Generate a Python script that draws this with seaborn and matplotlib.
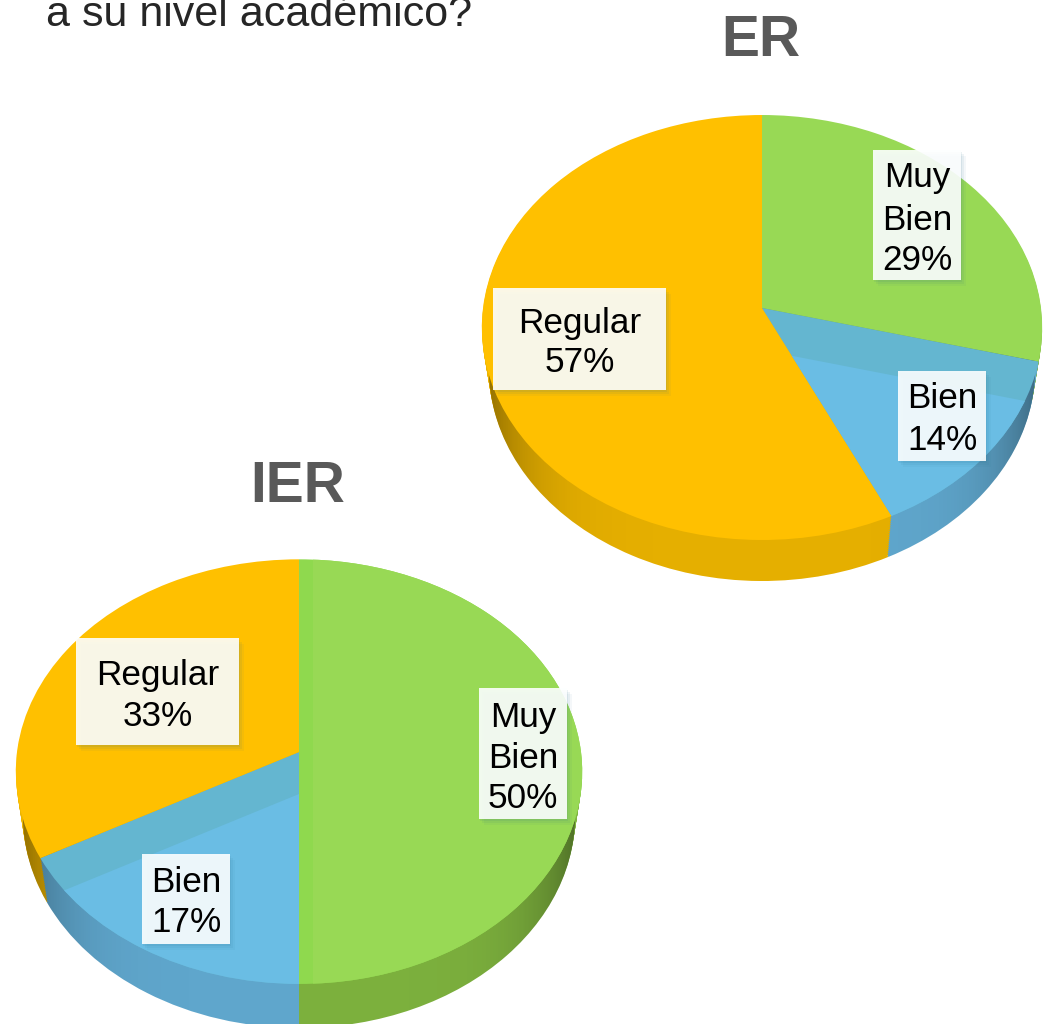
import matplotlib
matplotlib.use("Agg")
import matplotlib.pyplot as plt
from matplotlib.patches import Circle, Rectangle
from matplotlib.transforms import Transform
import numpy as np
import seaborn as sns

# data
CATEGORIES = ["Muy Bien", "Bien", "Regular"]
ER_VALUES = [29, 14, 57]
IER_VALUES = [50, 17, 33]

FACE = ["#8FD94E", "#64B6D0", "#FFC000"]
INNER = ["#98D955", "#6ABDE4", "#FFC000"]
WALL = ["#80B53F", "#62ABD2", "#ECB400"]

sns.set_theme(style="white")
plt.rcParams["font.family"] = ["Liberation Sans", "DejaVu Sans"]


class Perspective(Transform):
    # unit circle -> tilted disc in pixel coordinates
    input_dims = 2
    output_dims = 2

    def __init__(self, cx, cy, rx, ry, tilt, dx=0, dy=0):
        super().__init__()
        self.p = (cx + dx, cy + dy, rx, ry, tilt)

    def transform_non_affine(self, values):
        cx, cy, rx, ry, tilt = self.p
        x, y = np.asarray(values).T
        den = 1 + tilt * y
        return np.column_stack([cx + rx * x / den, cy - ry * y / den])


def draw_pie(ax, values, colors, persp, zorder):
    wedges, _ = ax.pie(
        values, colors=colors, startangle=90, counterclock=False, radius=1,
        wedgeprops={"linewidth": 0}
    )
    for w in wedges:
        w.set_transform(persp + ax.transData)
        w.set_zorder(zorder)
    return wedges


def draw_disc(ax, values, geom, depth, inner_shift):
    cx, cy, rx, ry, tilt = geom
    # side wall, narrows a little going down
    for i, d in enumerate(range(depth, 0, -2)):
        low = (cx, cy, rx * (1 - 0.025 * d / depth), ry, tilt)
        draw_pie(ax, values, WALL, Perspective(*low, dy=d), 1 + i * 0.01)

    # shading of the wall, darker towards both ends
    xs = np.linspace(-1, 1, 300)
    shade = np.zeros((2, 300, 4))
    shade[..., 3] = 0.03 + 0.42 * np.abs(xs) ** 6
    img = ax.imshow(
        shade, extent=(cx - rx - 5, cx + rx + 5, cy + ry + depth + 60, cy - 20),
        aspect="auto", zorder=2
    )
    low = (cx, cy, rx * 0.975, ry, tilt)
    img.set_clip_path(Circle((0, 0), 1, transform=Perspective(*low, dy=depth) + ax.transData))

    # top face, one face over it is moved a bit to leave a darker band
    top = draw_pie(ax, values, INNER, Perspective(*geom), 3)
    for i, (dx, dy) in inner_shift.items():
        top[i].set_facecolor(FACE[i])
        lighter = draw_pie(ax, values, INNER, Perspective(*geom, dx=dx, dy=dy), 4)
        for j, w in enumerate(lighter):
            if j == i:
                # pie switches clipping off on its wedges
                w.set_clip_on(True)
                w.set_clip_path(top[i])
            else:
                w.set_visible(False)


def label_box(ax, box, lines, text_y):
    x0, x1, y0, y1 = box
    for off, a in ((6, 0.05), (4, 0.07), (2, 0.09)):
        ax.add_patch(Rectangle((x0 + off - 1, y0 + off), x1 - x0, y1 - y0, fc="#2a6f8a", ec="none", alpha=a, zorder=5))
    ax.add_patch(Rectangle((x0, y0), x1 - x0, y1 - y0, fc="#FDFFFF", ec="none", alpha=0.9, zorder=6))
    for line, y in zip(lines, text_y):
        ax.text((x0 + x1) / 2, y + 3, line, ha="center", va="center", fontsize=25.3, color="black", zorder=7)


fig = plt.figure(figsize=(10.5, 10.24), dpi=100)
ax = fig.add_axes([0, 0, 1, 1])

draw_disc(ax, ER_VALUES, (762, 308, 279, 210.7, 0.0918), 41, {1: (0, 42)})
draw_disc(ax, IER_VALUES, (299, 752, 282, 210.5, 0.0925), 44, {1: (0, 42), 0: (14, 0)})

label_box(ax, (873, 961, 150, 280), ["Muy", "Bien", f"{ER_VALUES[0]}%"], [175, 217, 258])
label_box(ax, (898, 986, 371, 461), ["Bien", f"{ER_VALUES[1]}%"], [396, 437])
label_box(ax, (493, 666, 288, 390), ["Regular", f"{ER_VALUES[2]}%"], [320, 360])
label_box(ax, (479, 567, 688, 819), ["Muy", "Bien", f"{IER_VALUES[0]}%"], [714, 755, 796])
label_box(ax, (142, 230, 854, 944), ["Bien", f"{IER_VALUES[1]}%"], [880, 920])
label_box(ax, (76, 239, 638, 745), ["Regular", f"{IER_VALUES[2]}%"], [673, 714])

ax.text(761, 41, "ER", ha="center", va="center", fontsize=41, fontweight="bold", color="#595959", zorder=8)
ax.text(298, 487, "IER", ha="center", va="center", fontsize=41, fontweight="bold", color="#595959", zorder=8)
ax.text(46, 26, "a su nivel académico?", ha="left", va="baseline", fontsize=31, color="#262626", zorder=8)

ax.set_aspect("auto")
ax.set_xlim(0, 1050)
ax.set_ylim(1024, 0)
ax.axis("off")

fig.savefig("out.png", dpi=100)
